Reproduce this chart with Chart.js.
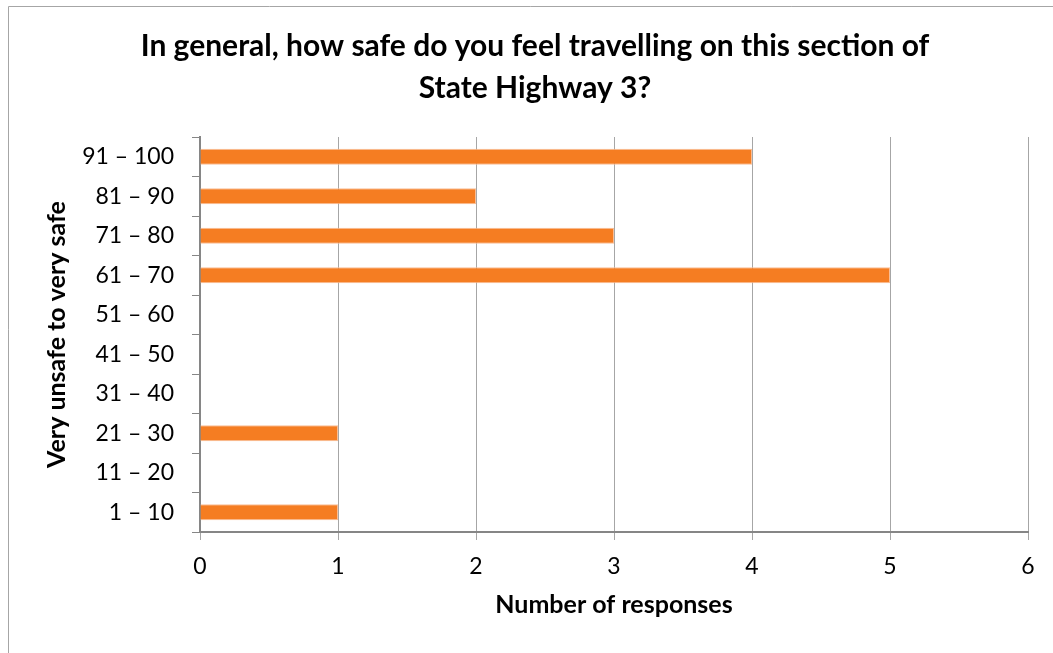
<!DOCTYPE html>
<html>
<head>
<meta charset="utf-8">
<title>Safety on State Highway 3</title>
<script src="https://cdn.jsdelivr.net/npm/chart.js@4/dist/chart.umd.min.js"></script>
<style>
  html, body { margin: 0; padding: 0; background: #fff; }
  #wrap { width: 1053px; height: 653px; position: relative; }
</style>
</head>
<body>
<div id="wrap"><canvas id="myChart" width="1053" height="653"></canvas></div>
<script>
// rating bands, lowest first (drawn bottom-up)
const bands = ['1 – 10', '11 – 20', '21 – 30', '31 – 40', '41 – 50',
               '51 – 60', '61 – 70', '71 – 80', '81 – 90', '91 – 100'];
const responses = [1, 0, 1, 0, 0, 0, 5, 3, 2, 4];
const xTicks = [0, 1, 2, 3, 4, 5, 6];

const titleLines = ['In general, how safe do you feel travelling on this section of',
                    'State Highway 3?'];

const FONT = 'Lato, "Open Sans", sans-serif';
const PAD_LEFT = 42;

// light grey frame around the whole chart
const framePlugin = {
  id: 'frame',
  beforeDraw(chart) {
    const ctx = chart.ctx;
    ctx.save();
    ctx.fillStyle = '#fff';
    ctx.fillRect(0, 0, chart.width, chart.height);
    ctx.strokeStyle = '#a6a6a6';
    ctx.lineWidth = 1;
    ctx.beginPath();
    ctx.moveTo(8.5, chart.height);
    ctx.lineTo(8.5, 6.5);
    ctx.lineTo(chart.width, 6.5);
    ctx.stroke();
    ctx.restore();
  }
};

var ctx = document.getElementById('myChart').getContext('2d');
var chart = new Chart(ctx, {
  type: 'bar',
  data: {
    labels: bands,
    datasets: [{
      label: 'Responses',
      data: responses,
      backgroundColor: 'rgb(245, 125, 34)',
      borderColor: 'rgb(249, 190, 150)',
      borderWidth: 1,
      borderSkipped: 'left',
      categoryPercentage: 1,
      barPercentage: 0.4
    }]
  },
  options: {
    indexAxis: 'y',
    responsive: false,
    animation: false,
    events: [],
    layout: { padding: { left: PAD_LEFT, right: 25, top: 0, bottom: 0 } },
    plugins: {
      legend: { display: false },
      tooltip: { enabled: false },
      title: {
        display: true,
        text: titleLines,
        color: '#000',
        font: { family: FONT, size: 30, weight: 'bold', lineHeight: 1.4 },
        padding: { top: 25, bottom: 28 }
      }
    },
    scales: {
      x: {
        min: 0,
        max: 6,
        afterBuildTicks(scale) {
          scale.ticks = xTicks.map(v => ({ value: v }));
        },
        afterFit(scale) { scale.height = 653 - 532; },
        grid: {
          color: '#a6a6a6',
          lineWidth: 1,
          tickLength: 8,
          drawTicks: true
        },
        border: { display: true, color: '#868686', width: 2 },
        ticks: {
          color: '#000',
          padding: 13,
          font: { family: FONT, size: 23 }
        },
        title: {
          display: true,
          text: 'Number of responses',
          color: '#000',
          font: { family: FONT, size: 25, weight: 'bold', lineHeight: 1.2 },
          padding: { top: 0, bottom: 33 }
        }
      },
      y: {
        reverse: true,
        afterFit(scale) { scale.width = 200 - PAD_LEFT; },
        grid: {
          offset: true,
          drawOnChartArea: false,
          color: '#868686',
          tickLength: 8
        },
        border: { display: true, color: '#868686', width: 2 },
        ticks: {
          color: '#000',
          padding: 18,
          font: { family: FONT, size: 23 }
        },
        title: {
          display: true,
          text: 'Very unsafe to very safe',
          color: '#000',
          font: { family: FONT, size: 25, weight: 'bold', lineHeight: 1.2 },
          padding: { top: 0, bottom: 0 }
        }
      }
    }
  },
  plugins: [framePlugin]
});
</script>
</body>
</html>
